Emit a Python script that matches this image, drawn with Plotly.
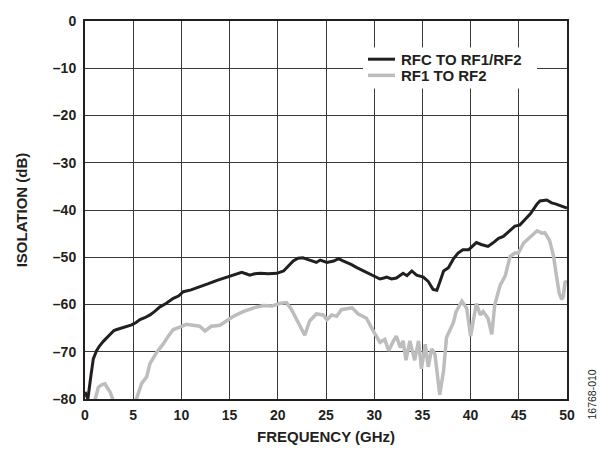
import plotly.graph_objects as go

freq_rfc = [0.0, 0.3, 0.6, 0.86, 1.2, 1.5, 1.9, 2.6, 3.0, 3.3, 4.0, 4.5, 4.84, 5.3, 5.7, 6.2, 6.74, 7.2,
            7.78, 8.4, 9.16, 9.7, 10.2, 11.0, 11.9, 12.8, 13.7, 14.3, 15.0, 15.6, 16.25, 16.7, 17.1, 17.6,
            18.2, 19.0, 19.9, 20.6, 21.0, 21.6, 22.1, 22.6, 23.0, 23.5, 24.0, 24.4, 25.1, 25.8, 26.3, 26.7,
            27.1, 27.6, 28.2, 28.9, 29.6, 30.1, 30.6, 31.0, 31.3, 31.8, 32.3, 33.0, 33.4, 33.9, 34.4, 35.1,
            35.6, 36.1, 36.5, 36.8, 37.2, 37.7, 38.2, 38.7, 39.2, 39.8, 40.1, 40.6, 41.1, 41.8, 42.3, 42.9,
            43.4, 44.1, 44.6, 45.1, 45.6, 46.2, 46.9, 47.2, 47.9, 48.4, 48.8, 49.3, 49.8, 50.0]
iso_rfc = [-78.5, -80.0, -75.3, -71.5, -69.8, -68.8, -67.8, -66.3, -65.5, -65.3, -64.9, -64.5, -64.3, -63.8,
           -63.2, -62.8, -62.2, -61.5, -60.5, -59.8, -58.7, -58.2, -57.3, -56.9, -56.3, -55.6, -54.9, -54.5,
           -53.9, -53.5, -53.2, -53.5, -53.8, -53.5, -53.4, -53.5, -53.4, -52.9, -52.0, -50.8, -50.2, -50.1,
           -50.4, -50.8, -51.1, -50.6, -51.1, -50.8, -50.3, -50.7, -51.0, -51.5, -52.2, -52.9, -53.6, -54.0,
           -54.6, -54.4, -54.2, -54.6, -54.4, -53.4, -53.9, -52.9, -53.8, -54.2, -55.1, -56.8, -57.0, -55.3,
           -52.9, -52.2, -50.4, -49.1, -48.4, -48.4, -47.9, -46.9, -47.3, -47.7, -47.0, -46.0, -45.6, -44.2,
           -43.4, -43.2, -42.2, -40.8, -38.7, -38.1, -37.9, -38.5, -38.7, -39.1, -39.5, -39.6]

freq_rf = [1.0, 1.38, 1.73, 2.07, 2.25, 2.6, 2.9, 3.3, 4.0, 4.8, 5.3, 5.88, 6.4, 6.74, 7.44, 8.1, 8.64, 9.16,
           9.85, 10.5, 11.2, 11.9, 12.45, 13.1, 14.0, 14.7, 15.4, 16.4, 17.5, 18.5, 19.4, 20.2, 20.9, 21.4,
           21.96, 22.5, 22.8, 23.3, 24.0, 24.7, 25.1, 25.6, 26.1, 26.6, 27.2, 27.7, 28.35, 29.2, 29.9, 30.6,
           31.1, 31.5, 32.0, 32.3, 32.7, 33.0, 33.3, 33.7, 34.2, 34.6, 34.9, 35.3, 35.6, 35.97, 36.3, 36.65,
           36.8, 37.2, 37.5, 38.2, 38.5, 39.1, 39.6, 40.0, 40.3, 40.6, 41.0, 41.3, 41.8, 42.2, 42.5, 43.05,
           43.6, 44.1, 44.6, 44.95, 45.5, 46.2, 46.9, 47.4, 47.7, 48.2, 48.6, 48.9, 49.2, 49.45, 49.6, 49.8, 50.0]
iso_rf = [-80.5, -77.5, -77.0, -76.8, -77.4, -78.5, -80.2, -82.0, -83.0, -82.0, -80.2, -76.7, -75.3, -72.5,
          -70.1, -68.4, -66.7, -65.3, -64.8, -64.2, -64.4, -64.6, -65.6, -64.6, -64.4, -63.4, -62.5, -61.5,
          -60.7, -60.2, -60.3, -59.8, -59.6, -61.0, -63.2, -65.6, -66.5, -63.5, -62.0, -62.2, -63.2, -62.2,
          -62.5, -61.1, -60.8, -60.7, -62.0, -62.9, -65.6, -68.0, -67.4, -69.8, -67.7, -66.7, -69.1, -67.7,
          -71.8, -67.7, -71.8, -67.7, -73.6, -68.4, -73.2, -69.4, -70.5, -76.7, -79.1, -73.9, -67.0, -63.9,
          -61.5, -59.3, -60.8, -66.7, -62.9, -59.8, -62.2, -61.5, -62.9, -66.3, -60.1, -56.0, -53.9, -49.8,
          -49.1, -49.1, -47.0, -45.6, -44.4, -44.9, -44.8, -46.5, -49.7, -53.9, -57.7, -58.9, -58.4, -55.3, -55.0]

series_names = ["RFC TO RF1/RF2", "RF1 TO RF2"]
series_colors = ["#231f20", "#bdbdbd"]
series_widths = [3, 3.5]

x_ticks = list(range(0, 51, 5))
y_ticks = list(range(0, -81, -10))
y_ticktext = ["0"] + ["\u2013" + str(-v) for v in y_ticks[1:]]

FONT = "Arial, 'Liberation Sans', sans-serif"
INK = "#231f20"

# The page body adds an 8px offset; margins compensate so the plot area lands where the reference has it.
ML, MT, PW, PH = 77, 5, 482, 386


def px_x(px):
    return (px - ML) / PW


def px_y(py):
    return 1 - (py - MT) / PH


fig = go.Figure()
for xs, ys, nm, col, w in zip([freq_rfc, freq_rf], [iso_rfc, iso_rf], series_names, series_colors, series_widths):
    fig.add_trace(go.Scatter(x=xs, y=ys, mode="lines", name=nm, showlegend=False,
                             line=dict(color=col, width=w)))

fig.update_layout(
    width=613, height=452,
    margin=dict(l=ML, r=613 - ML - PW, t=MT, b=452 - MT - PH),
    paper_bgcolor="white", plot_bgcolor="white",
    font=dict(family=FONT, size=14, color=INK),
    xaxis=dict(range=[0, 50], tickvals=x_ticks, ticktext=["<b>%d</b>" % v for v in x_ticks],
               showgrid=True, gridcolor="#3a3a3a", gridwidth=1,
               showline=True, linecolor=INK, linewidth=2, mirror=True,
               ticks="", zeroline=False, ticklabelstandoff=2, ticklabeloverflow="allow",
               title=dict(text="<b>FREQUENCY (GHz)</b>", font=dict(family=FONT, size=15), standoff=10),
               tickfont=dict(family=FONT, size=14)),
    yaxis=dict(range=[-80, 0], tickvals=y_ticks, ticktext=["<b>%s</b>" % t for t in y_ticktext],
               showgrid=True, gridcolor="#3a3a3a", gridwidth=1,
               showline=True, linecolor=INK, linewidth=2, mirror=True,
               ticks="", zeroline=False, ticklabelstandoff=4, ticklabeloverflow="allow",
               title=dict(text="<b>ISOLATION (dB)</b>", font=dict(family=FONT, size=15), standoff=22),
               tickfont=dict(family=FONT, size=14)),
)

# legend box (white, hides grid) with line samples and labels
fig.add_shape(type="rect", xref="paper", yref="paper", layer="above",
              x0=px_x(355), x1=px_x(529), y0=px_y(74), y1=px_y(32),
              fillcolor="white", line=dict(width=0))
row_y = [44, 60.5]
for ry, nm, col, w in zip(row_y, series_names, series_colors, series_widths):
    fig.add_shape(type="line", xref="paper", yref="paper", layer="above",
                  x0=px_x(360), x1=px_x(387), y0=px_y(ry), y1=px_y(ry),
                  line=dict(color=col, width=w))
    fig.add_annotation(text="<b>%s</b>" % nm, xref="paper", yref="paper",
                       x=px_x(391), y=px_y(ry), xanchor="left", yanchor="middle",
                       showarrow=False, font=dict(family=FONT, size=15, color=INK))

fig.add_annotation(text="16768-010", x=px_x(592), y=px_y(414), xref="paper", yref="paper",
                   showarrow=False, textangle=-90, font=dict(family=FONT, size=10.5, color=INK))

fig.write_html("out.html")
